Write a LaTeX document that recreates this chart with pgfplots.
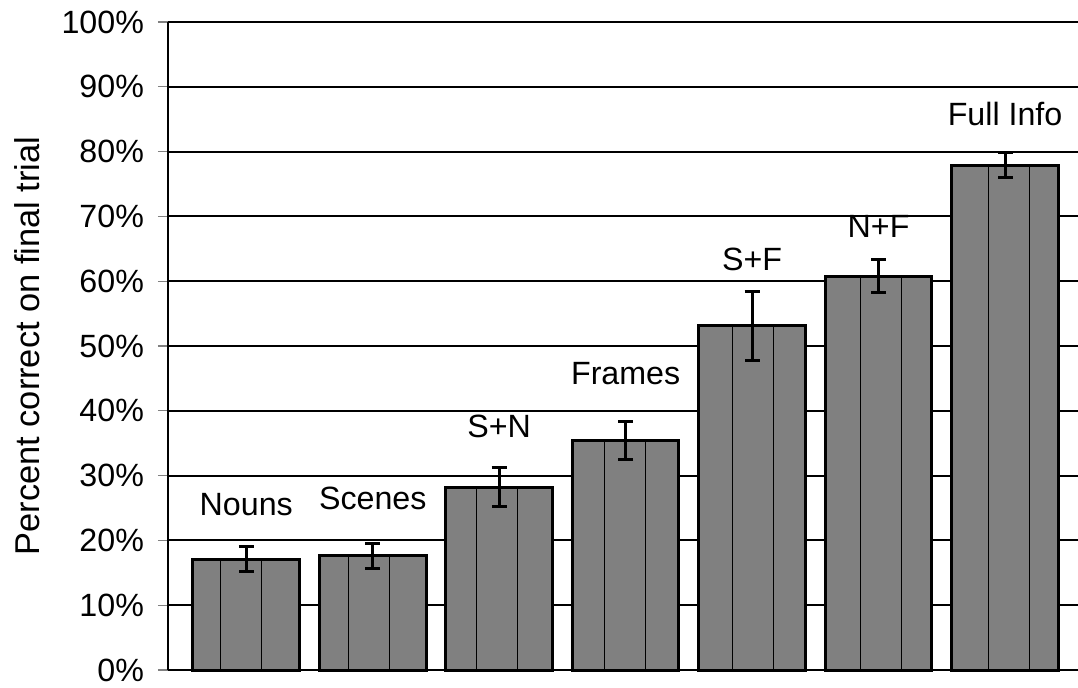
\documentclass[border=0pt]{standalone}
\usepackage{pgfplots}
\pgfplotsset{compat=1.18}
\usepackage{fontspec}
\setmainfont{Liberation Sans}

\begin{document}
\begin{tikzpicture}[font=\fontsize{16.1}{19}\selectfont]
\begin{axis}[
  name=ax,
  scale only axis,
  width=455pt, height=324pt,
  xmin=-0.619, xmax=6.577,
  ymin=0, ymax=100,
  axis x line*=bottom,
  axis y line*=left,
  axis line style={-, black, line width=1.4pt},
  xtick=\empty,
  ytick={0,10,...,100},
  /pgf/number format/assume math mode=true,
  yticklabel={\pgfmathprintnumber{\tick}\%},
  tick align=outside,
  major tick length=5pt,
  ytick style={gray, line width=0.6pt},
  yticklabel style={xshift=-3.5pt},
  ymajorgrids,
  grid style={black, line width=1pt},
  ylabel={Percent correct on final trial},
  ylabel style={at={(axis description cs:-0.1407,0.5)}, anchor=south, inner sep=0pt,
    font=\fontsize{17.2}{20}\selectfont},
  clip=false,
]
% mean percent correct per condition, with error bars
\addplot[ybar, bar width=0.843, fill={rgb,255:red,128;green,128;blue,128}, draw=black, line width=1.5pt,
  error bars/.cd, y dir=both, y explicit,
  error bar style={line width=1.5pt, black},
  error mark options={rotate=90, mark size=3.75pt, line width=1.5pt, black}]
  table[x=x, y=y, y error=e] {
  x y    e
  0 17.1 1.9
  1 17.6 1.9
  2 28.2 3.0
  3 35.4 2.9
  4 53.1 5.3
  5 60.8 2.6
  6 77.9 1.9
};
% thin panel seams inside the bars
\addplot[ycomb, black, line width=0.5pt, no marks] coordinates {
  (-0.206,17.1) (0.119,17.1)
  (0.810,17.6) (1.134,17.6)
  (1.817,28.2) (2.143,28.2)
  (2.834,35.4) (3.159,35.4)
  (3.847,53.1) (4.168,53.1)
  (4.859,60.8) (5.183,60.8)
  (5.871,77.9) (6.192,77.9)
};
% condition names above the bars
\node at (axis cs:0,25.6) {Nouns};
\node at (axis cs:1,26.5) {Scenes};
\node at (axis cs:2,37.6) {S+N};
\node at (axis cs:3,45.7) {Frames};
\node at (axis cs:4,63.4) {S+F};
\node at (axis cs:5,68.5) {N+F};
\node at (axis cs:6,85.8) {Full Info};
\end{axis}
\pgfresetboundingbox
\path[use as bounding box] ([shift={(-84pt,-8.5pt)}]ax.south west) rectangle ([shift={(0pt,11pt)}]ax.north east);
\end{tikzpicture}
\end{document}
